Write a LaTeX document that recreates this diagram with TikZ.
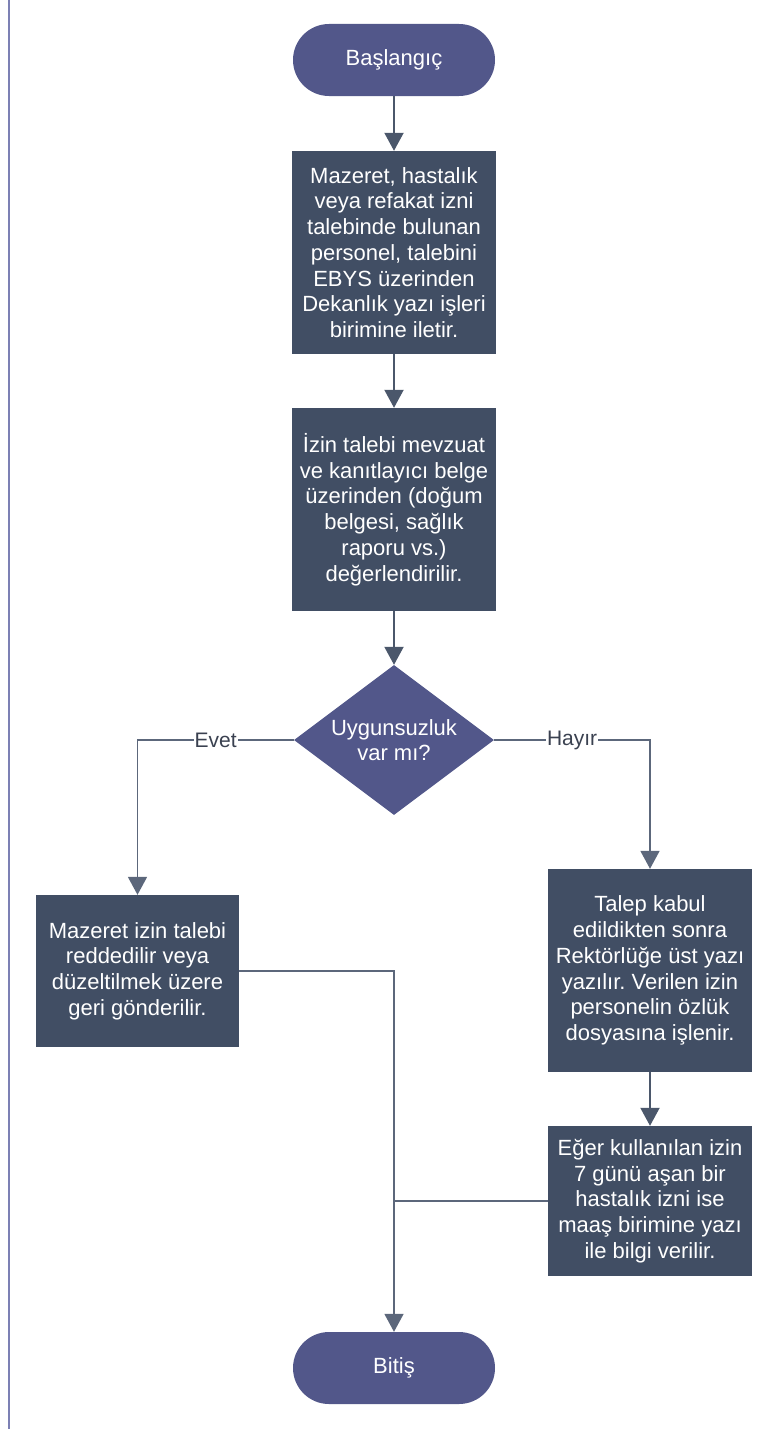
\documentclass[tikz,border=0pt]{standalone}
\usepackage{fontspec}
\setmainfont{Liberation Sans}
\usetikzlibrary{shapes.geometric,arrows.meta}
\definecolor{termc}{HTML}{52578A}
\definecolor{boxc}{HTML}{414E64}
\definecolor{linec}{HTML}{4B576B}
\definecolor{linel}{HTML}{5C677B}
\definecolor{bordc}{HTML}{7C80B4}
\definecolor{labc}{HTML}{3A4150}
\frenchspacing
\begin{document}
\begin{tikzpicture}[x=1pt,y=-1pt,
  every node/.style={font=\fontsize{22}{25.7}\selectfont},
  term/.style={rectangle, rounded corners=36pt, fill=termc, text=white, minimum width=202pt, minimum height=72pt, inner sep=0pt},
  proc/.style={rectangle, fill=boxc, text=white, align=center, inner sep=0pt, minimum width=204pt, minimum height=203pt},
  dec/.style={diamond, fill=termc, minimum width=200pt, minimum height=150pt, inner sep=0pt},
  arr/.style={draw=linec, line width=2pt, -{Triangle[width=19pt,length=18pt]}},
  arrl/.style={draw=linel, line width=1.8pt, -{Triangle[width=19pt,length=18pt]}},
  conn/.style={draw=linel, line width=1.8pt},
  lab/.style={fill=white, text=labc, inner sep=1pt, font=\fontsize{21}{24}\selectfont}
]
\useasboundingbox (0,0) rectangle (768,1429);
\draw[bordc, line width=2.6pt] (9,0) -- (9,1429);

\node[term] (s) at (394,60) {Başlangıç};
\node[proc] (b1) at (394,252.5) {Mazeret, hastalık\\veya refakat izni\\talebinde bulunan\\personel, talebini\\EBYS üzerinden\\Dekanlık yazı işleri\\birimine iletir.};
\node[proc] (b2) at (394,509.5) {İzin talebi mevzuat\\ve kanıtlayıcı belge\\üzerinden (doğum\\belgesi, sağlık\\raporu vs.)\\değerlendirilir.};
\node[dec, label={[text=white, align=center, font=\fontsize{22}{25.7}\selectfont]center:Uygunsuzluk\\var mı?}] (d) at (394,740) {};
\node[proc, minimum width=203pt, minimum height=152pt] (l) at (137.5,971) {Mazeret izin talebi\\reddedilir veya\\düzeltilmek üzere\\geri gönderilir.};
\node[proc] (r1) at (650,970.5) {Talep kabul\\edildikten sonra\\Rektörlüğe üst yazı\\yazılır. Verilen izin\\personelin özlük\\dosyasına işlenir.};
\node[proc, minimum height=150pt] (r2) at (650,1201) {Eğer kullanılan izin\\7 günü aşan bir\\hastalık izni ise\\maaş birimine yazı\\ile bilgi verilir.};
\node[term] (e) at (394,1368) {Bitiş};

\draw[arr] (s) -- (b1);
\draw[arr] (b1) -- (b2);
\draw[arr] (b2) -- (d);
\draw[arrl] (d.west) -| node[lab, pos=0.25] {Evet} (l.north);
\draw[arrl] (d.east) -| node[lab, pos=0.25] {Hayır} (r1.north);
\draw[arr] (r1) -- (r2);
\draw[arrl] (l.east) -| (e.north);
\draw[conn] (r2.west) -- (r2.west -| e.north);
\end{tikzpicture}
\end{document}
